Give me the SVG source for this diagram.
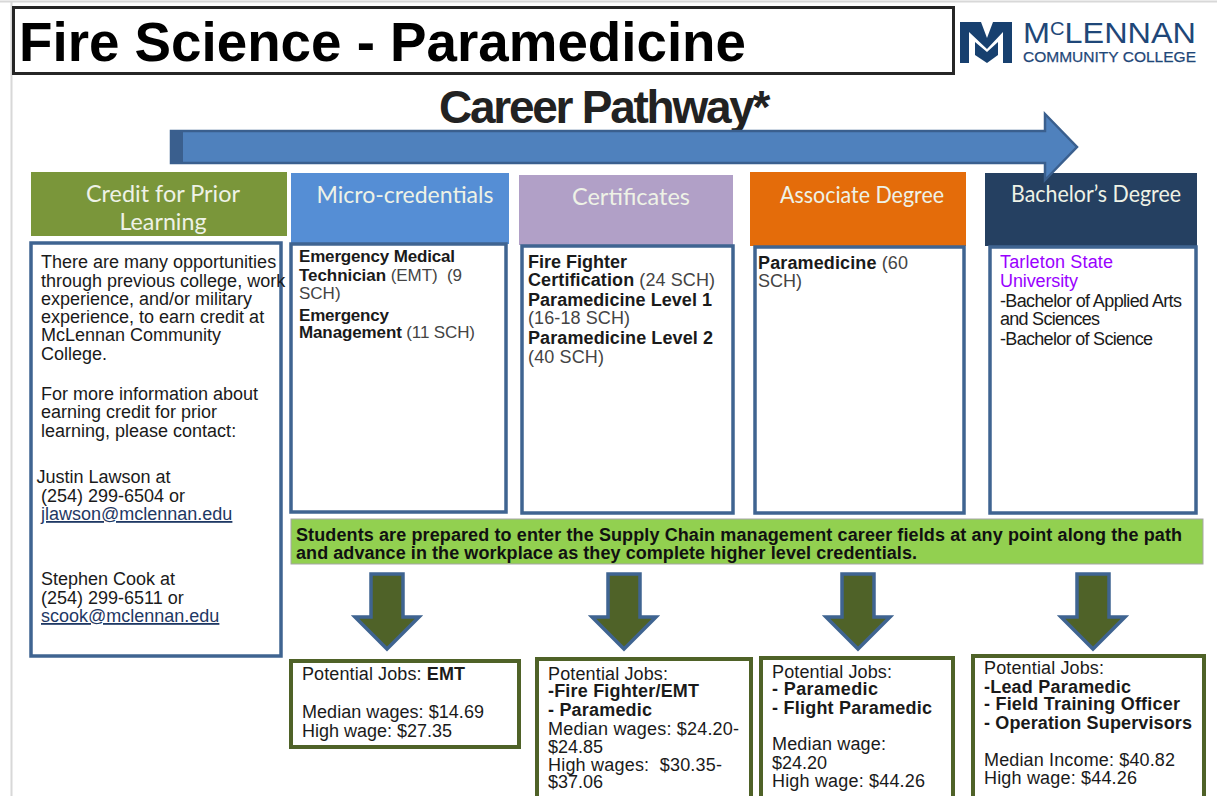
<svg xmlns="http://www.w3.org/2000/svg" width="1217" height="796" viewBox="0 0 1217 796">
<style>
text{font-family:"Liberation Sans",Arial,sans-serif;fill:#1a1a1a}
.b{font-size:18px}
.s{font-weight:700}
.g{fill:#444}
.hd{font-family:Lato,"Open Sans",sans-serif;font-size:23px;fill:#eef2e6;text-anchor:middle}
.box{fill:#fff;stroke:#3f6491;stroke-width:3.5}
.job{fill:#fff;stroke:#4f6228;stroke-width:4}
.dn{fill:#4f6228;stroke:#3f6491;stroke-width:3.5}
</style>
<rect width="1217" height="796" fill="#fff"/>
<path d="M0 1.5H1217M11.5 1.500V796" stroke="#d8d8d8" stroke-width="2" fill="none"/>
<g id="title"><rect x="13.500" y="7.500" width="940" height="66" fill="#fff" stroke="#262626" stroke-width="3"/>
<text x="19" y="61" font-size="55" font-weight="700" style="fill:#000" textLength="727" lengthAdjust="spacingAndGlyphs">Fire Science - Paramedicine</text></g>
<g id="logo"><path d="M960 22H981L987 38L993 22H1012V63H1003V32L987 49L969 32V63H960Z" fill="#17406f"/>
<path d="M975 42L987 52L998 42V55L987 63L975 55Z" fill="#17406f"/>
<text x="1023" y="43" font-size="29" style="fill:#1f4778" textLength="173" lengthAdjust="spacingAndGlyphs">M<tspan font-size="18" dy="-8">C</tspan><tspan dy="8">LENNAN</tspan></text>
<text x="1023" y="62" font-size="15.500" style="fill:#1f4778;stroke:#1f4778;stroke-width:.25" textLength="173" lengthAdjust="spacingAndGlyphs">COMMUNITY COLLEGE</text></g>
<text id="pathway-title" x="439" y="123" font-size="46" font-weight="700" style="fill:#222;letter-spacing:-2.500px" textLength="329">Career Pathway*</text>
<g id="credit"><rect x="31" y="172" width="256" height="64" fill="#7a963a"/><text class="hd" x="163" y="202" textLength="154" lengthAdjust="spacingAndGlyphs">Credit for Prior</text><text class="hd" x="163" y="230" textLength="87" lengthAdjust="spacingAndGlyphs">Learning</text>
<rect class="box" x="31" y="243" width="250" height="413"/>
<text x="41" y="268" class="b">There are many opportunities</text><text x="41" y="287" class="b">through previous college, work</text><text x="41" y="305" class="b">experience, and/or military</text><text x="41" y="323" class="b">experience, to earn credit at</text><text x="41" y="341" class="b">McLennan Community</text><text x="41" y="360" class="b">College.</text>
<text x="41" y="400" class="b">For more information about</text><text x="41" y="418" class="b">earning credit for prior</text><text x="41" y="437" class="b">learning, please contact:</text>
<text x="36.500" y="483" class="b">Justin Lawson at</text><text x="41" y="502" class="b">(254) 299-6504 or</text><text x="41" y="520" class="b" text-decoration="underline" style="fill:#1f3864">jlawson@mclennan.edu</text>
<text x="41" y="585" class="b">Stephen Cook at</text><text x="41" y="604" class="b">(254) 299-6511 or</text><text x="41" y="622" class="b" text-decoration="underline" style="fill:#1f3864">scook@mclennan.edu</text></g>
<g id="micro"><rect x="291" y="173" width="218" height="71" fill="#558ed5"/><text class="hd" x="405" y="203">Micro-credentials</text>
<rect class="box" x="291" y="244" width="215" height="268"/>
<text x="299" y="262" class="b s" style="font-size:17px" textLength="156">Emergency Medical</text><text x="299" y="281" style="font-size:17px" textLength="163"><tspan class="s">Technician</tspan><tspan class="g"> (EMT)&#160; (9</tspan></text><text x="299" y="299" class="g" style="font-size:17px">SCH)</text>
<text x="299" y="321" class="s" style="font-size:17px" textLength="90">Emergency</text><text x="299" y="338" style="font-size:17px" textLength="176"><tspan class="s">Management</tspan><tspan class="g"> (11 SCH)</tspan></text></g>
<g id="certificates"><rect x="519" y="175" width="214" height="70" fill="#b1a0c7"/><text class="hd" x="631" y="205" textLength="118" lengthAdjust="spacingAndGlyphs">Certificates</text>
<rect class="box" x="522" y="246" width="211" height="267"/>
<text x="528" y="268" class="b s">Fire Fighter</text><text x="528" y="286" class="b" textLength="187"><tspan class="s">Certification</tspan><tspan class="g"> (24 SCH)</tspan></text><text x="528" y="306" class="b s" textLength="184">Paramedicine Level 1</text><text x="528" y="324" class="b g" textLength="102">(16-18 SCH)</text><text x="528" y="344" class="b s" textLength="185">Paramedicine Level 2</text><text x="528" y="363" class="b g" textLength="76">(40 SCH)</text></g>
<g id="associate"><rect x="750" y="172" width="216" height="74" fill="#e46c0a"/><text class="hd" x="862" y="203" textLength="164" lengthAdjust="spacingAndGlyphs">Associate Degree</text>
<rect class="box" x="755" y="247" width="209" height="266"/>
<text x="758" y="269" class="b" textLength="150"><tspan class="s">Paramedicine</tspan><tspan class="g"> (60</tspan></text><text x="758" y="287" class="b g">SCH)</text></g>
<g id="bachelor"><rect x="985" y="173" width="212" height="73" fill="#254061"/><text class="hd" x="1096" y="202" textLength="170" lengthAdjust="spacingAndGlyphs">Bachelor’s Degree</text>
<rect class="box" x="990" y="247" width="206" height="266"/>
<text x="1000" y="268" class="b" style="fill:#9900ff" textLength="113">Tarleton State</text><text x="1000" y="287" class="b" style="fill:#9900ff" textLength="78">University</text><text x="1000" y="307" class="b" textLength="182">-Bachelor of Applied Arts</text><text x="1000" y="325" class="b" textLength="100">and Sciences</text><text x="1000" y="345" class="b" textLength="153">-Bachelor of Science</text></g>
<g id="pathway-arrow"><path d="M171 131H1045V114L1077 147L1045 180V163H171Z" fill="#4f81bd" stroke="#3a5f8e" stroke-width="2.500"/><rect x="171" y="131" width="12" height="32" fill="#3a5f8e"/></g>
<g id="banner"><rect x="291" y="519" width="912" height="45" fill="#92d050" stroke="#a6a6a6" stroke-width="1"/>
<text x="296" y="541" class="b s" style="fill:#111" textLength="886">Students are prepared to enter the Supply Chain management career fields at any point along the path</text><text x="296" y="559" class="b s" style="fill:#111" textLength="621">and advance in the workplace as they complete higher level credentials.</text></g>
<g id="connectors">
<path class="dn" d="M371 574H403V617H419L387 649L355 617H371Z"/>
<path class="dn" d="M608 574H640V617H656L624 649L592 617H608Z"/>
<path class="dn" d="M842 574H874V617H890L858 649L826 617H842Z"/>
<path class="dn" d="M1077 574H1109V617H1125L1093 649L1061 617H1077Z"/>
</g>
<g id="job1"><rect class="job" x="291" y="661" width="228" height="86"/><text x="302" y="680" class="b" textLength="163">Potential Jobs: <tspan class="s">EMT</tspan></text><text x="302" y="718" class="b" textLength="182">Median wages: $14.69</text><text x="302" y="737" class="b" textLength="150">High wage: $27.35</text></g>
<g id="job2"><rect class="job" x="537" y="659" width="214" height="145"/><text x="548" y="680" class="b" textLength="120">Potential Jobs:</text><text x="548" y="697" class="b s" textLength="151">-Fire Fighter/EMT</text><text x="548" y="716" class="b s" textLength="104">- Paramedic</text><text x="548" y="735" class="b" textLength="191">Median wages: $24.20-</text><text x="548" y="753" class="b">$24.85</text><text x="548" y="771" class="b" textLength="174">High wages:&#160; $30.35-</text><text x="548" y="788" class="b">$37.06</text></g>
<g id="job3"><rect class="job" x="761" y="658" width="192" height="146"/><text x="772" y="678" class="b" textLength="120">Potential Jobs:</text><text x="772" y="695" class="b s" textLength="106">- Paramedic</text><text x="772" y="714" class="b s" textLength="160">- Flight Paramedic</text><text x="772" y="750" class="b" textLength="114">Median wage:</text><text x="772" y="769" class="b">$24.20</text><text x="772" y="787" class="b" textLength="153">High wage: $44.26</text></g>
<g id="job4"><rect class="job" x="973" y="656" width="231" height="148"/><text x="984" y="674" class="b" textLength="120">Potential Jobs:</text><text x="984" y="693" class="b s" textLength="147">-Lead Paramedic</text><text x="984" y="710" class="b s" textLength="196">- Field Training Officer</text><text x="984" y="729" class="b s" textLength="208">- Operation Supervisors</text><text x="984" y="766" class="b" textLength="191">Median Income: $40.82</text><text x="984" y="784" class="b" textLength="153">High wage: $44.26</text></g>
</svg>
